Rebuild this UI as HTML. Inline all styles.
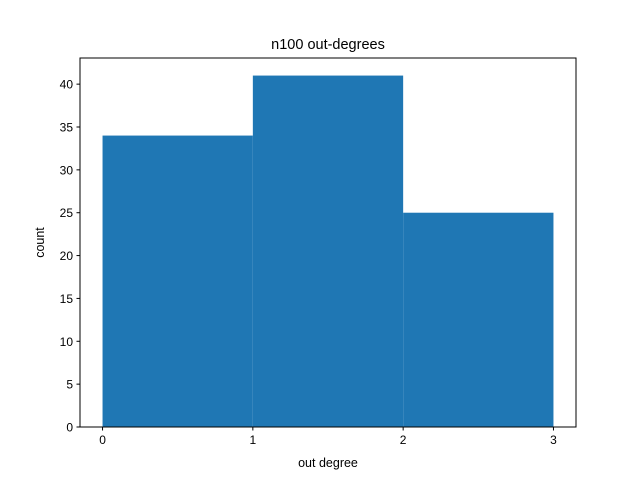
<!DOCTYPE html>
<html><head><meta charset="utf-8"><style>
body{margin:0;background:#fff;}
svg{display:block;font-family:"Liberation Sans","DejaVu Sans",sans-serif;}
</style></head><body>
<svg id="chart" width="640" height="480">
<rect width="640" height="480" fill="#fff"/>
<text x="328" y="49" text-anchor="middle" font-size="14.5">n100 out-degrees</text>
<g id="bars"></g>
<rect x="80" y="58" width="496" height="369" fill="none" stroke="#000" stroke-width="1"/>
<g id="xt"></g><g id="yt"></g>
<text x="328" y="467" text-anchor="middle" font-size="12.5">out degree</text>
<text transform="translate(44,242.5) rotate(-90)" text-anchor="middle" font-size="12.5">count</text>
</svg>
<script>
const binEdges=[0,1,2,3];
const counts=[34,41,25];
const xTicks=[0,1,2,3];
const yTicks=[0,5,10,15,20,25,30,35,40];
const L=80,R=576,T=58,B=427;
const xmin=-0.15,xmax=3.15,ymax=43.05;
const sx=v=>L+(v-xmin)/(xmax-xmin)*(R-L);
const sy=v=>B-v/ymax*(B-T);
const NS="http://www.w3.org/2000/svg";
const bars=document.getElementById('bars');
counts.forEach((c,i)=>{
 const r=document.createElementNS(NS,'rect');
 r.setAttribute('x',sx(binEdges[i]));r.setAttribute('width',sx(binEdges[i+1])-sx(binEdges[i]));
 r.setAttribute('y',sy(c));r.setAttribute('height',B-sy(c));r.setAttribute('fill','#1f77b4');
 
 
 bars.appendChild(r);
});
const xt=document.getElementById('xt');
xTicks.forEach(v=>{
 const x=sx(v);
 const l=document.createElementNS(NS,'line');
 l.setAttribute('x1',x);l.setAttribute('x2',x);l.setAttribute('y1',B);l.setAttribute('y2',B+3.5);l.setAttribute('stroke','#000');
 
 
 xt.appendChild(l);
 const t=document.createElementNS(NS,'text');
 t.setAttribute('x',x);t.setAttribute('y',B+17);t.setAttribute('text-anchor','middle');t.setAttribute('font-size','12');t.textContent=v;
 
 
 xt.appendChild(t);
});
const yt=document.getElementById('yt');
yTicks.forEach(v=>{
 const y=sy(v);
 const l=document.createElementNS(NS,'line');
 l.setAttribute('x1',L-3.5);l.setAttribute('x2',L);l.setAttribute('y1',y);l.setAttribute('y2',y);l.setAttribute('stroke','#000');
 
 
 yt.appendChild(l);
 const t=document.createElementNS(NS,'text');
 t.setAttribute('x',L-7);t.setAttribute('y',y+4.5);t.setAttribute('text-anchor','end');t.setAttribute('font-size','12');t.textContent=v;
 
 
 yt.appendChild(t);
});
</script>
</body></html>
